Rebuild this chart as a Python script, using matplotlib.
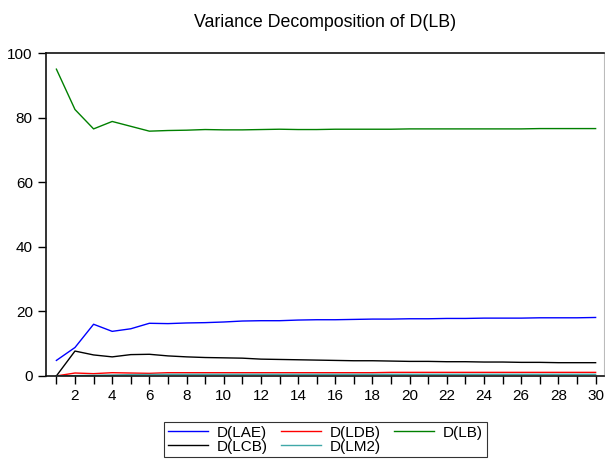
"""Variance decomposition of D(LB) over a 30-period horizon."""

import matplotlib

matplotlib.use("Agg")
import matplotlib.pyplot as plt
from matplotlib.ticker import MultipleLocator

plt.rcParams["font.family"] = ["Liberation Sans", "DejaVu Sans"]

periods = list(range(1, 31))

lae = [4.8, 8.8, 16.0, 13.8, 14.6, 16.3, 16.2, 16.4, 16.5, 16.7,
       17.0, 17.1, 17.1, 17.3, 17.4, 17.4, 17.5, 17.6, 17.6, 17.7,
       17.7, 17.8, 17.8, 17.9, 17.9, 17.9, 18.0, 18.0, 18.0, 18.1]
ldb = [0.0, 0.9, 0.7, 1.0, 0.9, 0.8, 1.0, 1.0, 1.0, 1.0,
       1.0, 1.0, 1.0, 1.0, 1.0, 1.0, 1.0, 1.0, 1.1, 1.1,
       1.1, 1.1, 1.1, 1.1, 1.1, 1.1, 1.1, 1.1, 1.1, 1.1]
lb = [95.0, 82.5, 76.5, 78.8, 77.3, 75.8, 76.0, 76.1, 76.3, 76.2,
      76.2, 76.3, 76.4, 76.3, 76.3, 76.4, 76.4, 76.4, 76.4, 76.5,
      76.5, 76.5, 76.5, 76.5, 76.5, 76.5, 76.6, 76.6, 76.6, 76.6]
lcb = [0.0, 7.7, 6.5, 5.9, 6.6, 6.7, 6.2, 5.9, 5.7, 5.6,
       5.5, 5.2, 5.1, 5.0, 4.9, 4.8, 4.7, 4.7, 4.6, 4.5,
       4.5, 4.4, 4.4, 4.3, 4.3, 4.2, 4.2, 4.1, 4.1, 4.1]
lm2 = [0.0, 0.1, 0.2, 0.3, 0.4, 0.45, 0.5, 0.5, 0.5, 0.5,
       0.5, 0.5, 0.5, 0.5, 0.5, 0.5, 0.5, 0.5, 0.5, 0.5,
       0.5, 0.5, 0.5, 0.5, 0.5, 0.5, 0.5, 0.5, 0.5, 0.5]

series = {
    "D(LAE)": (lae, "#0000ff"),
    "D(LDB)": (ldb, "#ff0000"),
    "D(LB)": (lb, "#008000"),
    "D(LCB)": (lcb, "#000000"),
    "D(LM2)": (lm2, "#40a8a8"),
}

fig = plt.figure(figsize=(6.05, 4.59), dpi=100)
ax = fig.add_axes([0.076, 0.181, 0.922, 0.7035])

lines = {}
for name, (vals, col) in series.items():
    (lines[name],) = ax.plot(periods, vals, color=col, linewidth=1.0, label=name)

ax.set_xlim(0.44, 30.44)
ax.set_ylim(0, 100)
ax.xaxis.set_major_locator(MultipleLocator(2))
ax.xaxis.set_minor_locator(MultipleLocator(1))
ax.yaxis.set_major_locator(MultipleLocator(20))
ax.tick_params(axis="both", which="both", direction="out", labelsize=11, color="black", width=1.0)
ax.tick_params(axis="x", which="both", length=6)
ax.tick_params(axis="y", length=6)

for side in ("left", "top", "bottom"):
    ax.spines[side].set_linewidth(1.2)
    ax.spines[side].set_color("#111111")
ax.spines["right"].set_color("#bbbbbb")
ax.spines["right"].set_linewidth(0.8)

ax.set_title("Variance Decomposition of D(LB)", fontsize=12.8, pad=19)

# legend fills column-wise, so order entries to read row-wise across
order = ["D(LAE)", "D(LCB)", "D(LDB)", "D(LM2)", "D(LB)"]
leg = fig.legend([lines[n] for n in order], order, ncol=3, loc="upper center",
                 bbox_to_anchor=(0.538, 0.081), borderaxespad=0, fontsize=11,
                 frameon=True, fancybox=False, edgecolor="black",
                 handlelength=2.6, columnspacing=0.85, handletextpad=0.6,
                 borderpad=0.25, labelspacing=0.0)
leg.get_frame().set_linewidth(0.8)

fig.savefig("out.png", dpi=100)
